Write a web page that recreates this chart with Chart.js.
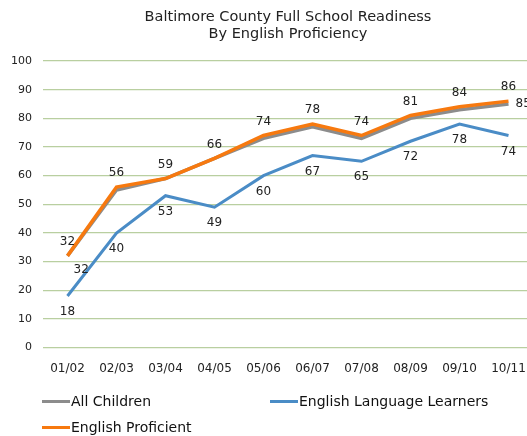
<!DOCTYPE html>
<html>
<head>
<meta charset="utf-8">
<script src="https://cdn.jsdelivr.net/npm/chart.js@4/dist/chart.umd.min.js"></script>
<style>
  html, body { margin: 0; padding: 0; background: #fff; overflow: hidden; width: 527px; height: 436px; }
  body { position: relative; }
  #wrap { position: absolute; left: 0; top: 0; width: 576px; height: 390px; }
  #title { position: absolute; left: 188px; width: 200px; top: 8px; text-align: center; white-space: nowrap;
           font-family: 'DejaVu Sans', Verdana, sans-serif; font-size: 14.5px; line-height: 17px; color: #222; }
  #title div { margin-left: -100px; margin-right: -100px; }
  #legend { position: absolute; left: 0; top: 388px; width: 527px; height: 48px; font-family: 'DejaVu Sans', Verdana, sans-serif; font-size: 14px; color: #111; }
  .item { position: absolute; display: flex; align-items: center; }
  .swatch { display: inline-block; width: 28px; height: 3px; margin-right: 1px; }
</style>
</head>
<body>
<div id="wrap"><canvas id="chart" width="576" height="390"></canvas></div>
<div id="title"><div>Baltimore County Full School Readiness</div><div>By English Proficiency</div></div>
<div id="legend"></div>
<script>
// Dados
const years = ['01/02', '02/03', '03/04', '04/05', '05/06', '06/07', '07/08', '08/09', '09/10', '10/11']
const allChildren = [32, 55, 59, 66, 73, 77, 73, 80, 83, 85]
const ellLearners = [18, 40, 53, 49, 60, 67, 65, 72, 78, 74]
const proficient = [32, 56, 59, 66, 74, 78, 74, 81, 84, 86]
// which "All Children" labels are visible (others sit under the orange ones)
const allChildrenShown = [true, false, false, false, false, false, false, false, false, true]
const yTicks = [0, 10, 20, 30, 40, 50, 60, 70, 80, 90, 100]

const FONT = "'DejaVu Sans', Verdana, sans-serif"

// data labels drawn next to each point
const labelPlugin = {
    id: 'pointLabels',
    afterDatasetsDraw(chart) {
        const ctx = chart.ctx
        ctx.save()
        ctx.font = '12px ' + FONT
        ctx.fillStyle = '#222'
        ctx.textBaseline = 'middle'
        chart.data.datasets.forEach((ds, i) => {
            const meta = chart.getDatasetMeta(i)
            meta.data.forEach((pt, j) => {
                const v = ds.data[j]
                if (ds.labelPos === 'above') {
                    ctx.textAlign = 'center'
                    ctx.fillText(v, pt.x, pt.y - 14)
                } else if (ds.labelPos === 'below') {
                    ctx.textAlign = 'center'
                    ctx.fillText(v, pt.x, pt.y + 16)
                } else if (ds.labelPos === 'right' && allChildrenShown[j]) {
                    ctx.textAlign = 'left'
                    if (j === 0) ctx.fillText(v, pt.x + 6, pt.y + 14)
                    else ctx.fillText(v, pt.x + 7, pt.y)
                }
            })
        })
        ctx.restore()
    }
}

const chart = new Chart(document.getElementById('chart'), {
    type: 'line',
    data: {
        labels: years,
        datasets: [
            {
                label: 'All Children',
                data: allChildren,
                borderColor: '#8c8c8c',
                borderWidth: 3.5,
                labelPos: 'right',
                order: 2
            },
            {
                label: 'English Language Learners',
                data: ellLearners,
                borderColor: '#4a8cc6',
                borderWidth: 3,
                labelPos: 'below',
                order: 1
            },
            {
                label: 'English Proficient',
                data: proficient,
                borderColor: '#f7790f',
                borderWidth: 3.5,
                labelPos: 'above',
                order: 0
            }
        ]
    },
    options: {
        responsive: false,
        animation: false,
        devicePixelRatio: 1,
        elements: {
            point: { radius: 0, hoverRadius: 0 },
            line: { tension: 0, borderCapStyle: 'butt', borderJoinStyle: 'miter' }
        },
        layout: { padding: { left: 0, right: 43, top: 61, bottom: 0 } },
        plugins: {
            legend: { display: false },
            tooltip: { enabled: false },
            title: { display: false }
        },
        scales: {
            x: {
                offset: true,
                grid: { display: false, drawTicks: false },
                border: { display: false },
                ticks: { color: '#222', font: { family: FONT, size: 12 }, padding: 14, maxRotation: 0 }
            },
            y: {
                min: 0,
                max: 100,
                afterBuildTicks: axis => { axis.ticks = yTicks.map(v => ({ value: v })) },
                grid: { color: '#b9cfa0', lineWidth: 1.2, drawTicks: false },
                border: { display: false },
                ticks: { color: '#222', font: { family: FONT, size: 11 }, padding: 11 }
            }
        }
    },
    plugins: [labelPlugin]
})

// legenda em HTML (duas colunas, alinhada a esquerda)
const legendPos = [[42, 14], [270, 14], [42, 40]]
const legend = document.getElementById('legend')
chart.data.datasets.forEach((ds, i) => {
    const item = document.createElement('div')
    item.className = 'item'
    item.style.left = legendPos[i][0] + 'px'
    item.style.top = (legendPos[i][1] - 9) + 'px'
    item.innerHTML = `<span class="swatch" style="background:${ds.borderColor}"></span>${ds.label}`
    legend.appendChild(item)
})
</script>
</body>
</html>
